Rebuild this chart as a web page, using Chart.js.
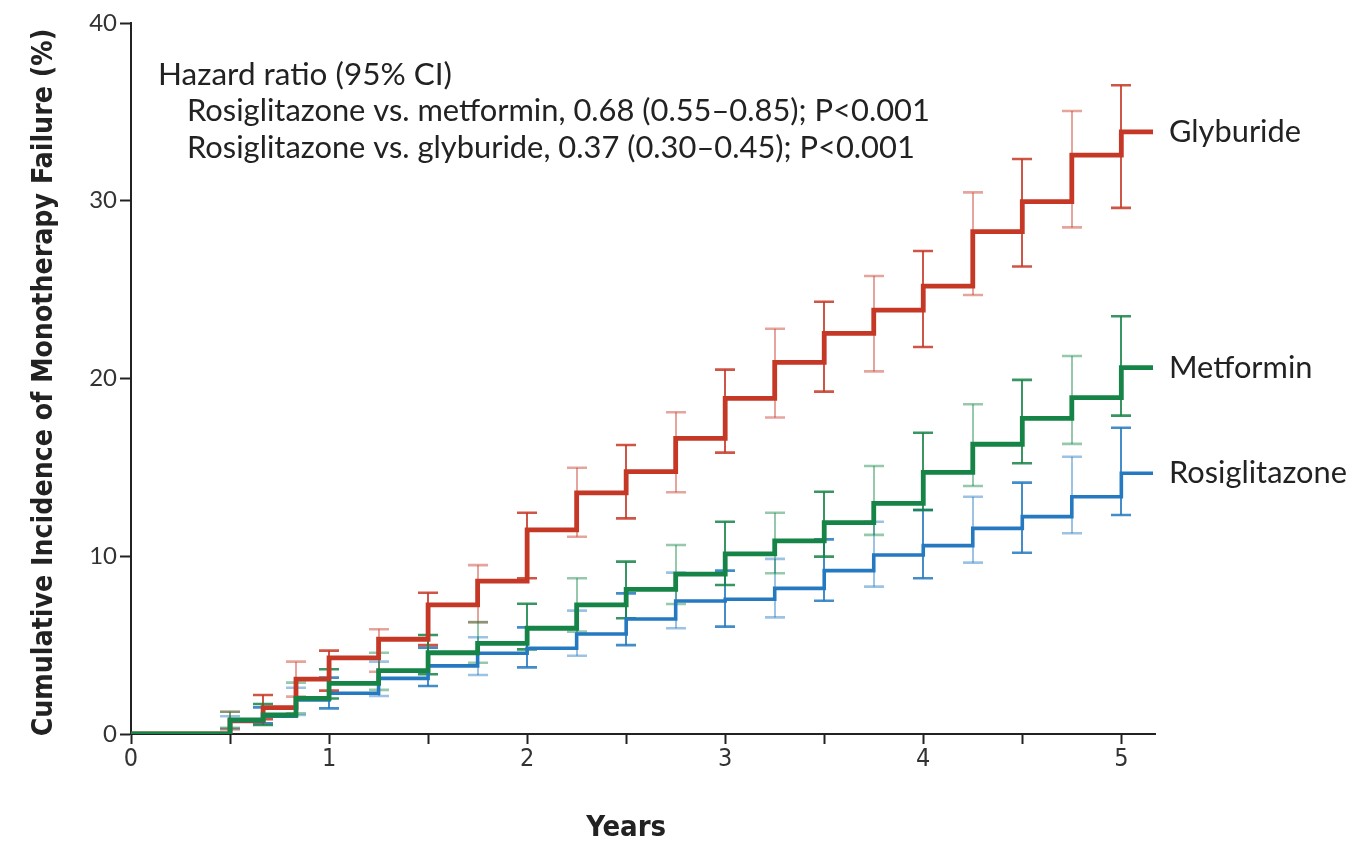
<!DOCTYPE html>
<html><head><meta charset="utf-8">
<script src="https://cdn.jsdelivr.net/npm/chart.js@4.4.1/dist/chart.umd.min.js"></script>
<style>html,body{margin:0;padding:0;background:#fff;} #wrap{width:1359px;height:841px;position:relative;}</style>
</head><body><div id="wrap"><canvas id="c" width="1359" height="841"></canvas></div>
<script>
// ---- data ----
const stepTimes = [0, 0.5, 0.667, 0.833, 1, 1.25, 1.5, 1.75, 2, 2.25, 2.5, 2.75, 3, 3.25, 3.5, 3.75, 4, 4.25, 4.5, 4.75, 5, 5.16];
const glyburide     = [0, 0.75, 1.48, 3.09, 4.28, 5.33, 7.26, 8.6, 11.48, 13.56, 14.76, 16.63, 18.88, 20.91, 22.54, 23.85, 25.2, 28.26, 29.95, 32.57, 33.88, 33.88];
const metformin     = [0, 0.79, 1.07, 2.0, 2.85, 3.56, 4.57, 5.1, 5.95, 7.26, 8.14, 9.0, 10.13, 10.86, 11.89, 12.98, 14.72, 16.3, 17.76, 18.92, 20.61, 20.61];
const rosiglitazone = [0, 0.7, 1.0, 1.91, 2.29, 3.13, 3.83, 4.54, 4.82, 5.63, 6.47, 7.48, 7.58, 8.19, 9.19, 10.07, 10.6, 11.57, 12.23, 13.35, 14.67, 14.67];

const ciTimes = [0.5, 0.667, 0.833, 1, 1.25, 1.5, 1.75, 2, 2.25, 2.5, 2.75, 3, 3.25, 3.5, 3.75, 4, 4.25, 4.5, 4.75, 5];
const glyburideLower = [0.26, 0.83, 2.1, 2.44, 3.5, 5.0, 6.28, 8.76, 11.1, 12.13, 13.6, 15.83, 17.81, 19.26, 20.4, 21.77, 24.7, 26.3, 28.5, 29.6];
const glyburideUpper = [1.25, 2.19, 4.07, 4.69, 5.89, 7.95, 9.5, 12.45, 14.98, 16.26, 18.1, 20.5, 22.8, 24.32, 25.77, 27.17, 30.47, 32.35, 35.05, 36.5];
const metforminLower = [0.35, 0.51, 1.16, 2.0, 2.48, 3.36, 4.01, 4.76, 5.76, 6.51, 7.31, 8.38, 9.04, 9.98, 11.2, 12.6, 13.95, 15.23, 16.32, 17.91];
const metforminUpper = [1.25, 1.69, 2.89, 3.64, 4.57, 5.57, 6.3, 7.33, 8.76, 9.7, 10.63, 11.94, 12.45, 13.63, 15.08, 16.95, 18.55, 19.92, 21.27, 23.5];
const rosiLower = [0.3, 0.6, 1.07, 1.44, 2.14, 2.7, 3.32, 3.75, 4.4, 5.0, 5.95, 6.04, 6.56, 7.5, 8.29, 8.76, 9.64, 10.2, 11.29, 12.32];
const rosiUpper = [1.0, 1.5, 2.6, 3.17, 4.07, 4.86, 5.44, 6.0, 6.94, 7.91, 9.08, 9.19, 9.85, 10.95, 11.94, 12.6, 13.35, 14.14, 15.6, 17.23];

const xTickValues = [0, 0.5, 1, 1.5, 2, 2.5, 3, 3.5, 4, 4.5, 5];
const xTickLabels = ['0', '', '1', '', '2', '', '3', '', '4', '', '5'];
const yTickValues = [0, 10, 20, 30, 40];
const seriesNames = ['Metformin', 'Glyburide', 'Rosiglitazone'];
const yTitle = 'Cumulative Incidence of Monotherapy Failure (%)';
const xTitle = 'Years';
const hazardTitle = 'Hazard ratio (95% CI)';
const hazardLines = ['Rosiglitazone vs. metformin, 0.68 (0.55\u20130.85); P<0.001',
                     'Rosiglitazone vs. glyburide, 0.37 (0.30\u20130.45); P<0.001'];

// ---- styles ----
const colors = { Metformin: [22, 132, 70], Glyburide: [198, 56, 38], Rosiglitazone: [36, 121, 192] };
const widths = { Metformin: 4.8, Glyburide: 4.8, Rosiglitazone: 3.6 };
const series = { Metformin: metformin, Glyburide: glyburide, Rosiglitazone: rosiglitazone };
const ci = {
  Metformin: [metforminLower, metforminUpper],
  Glyburide: [glyburideLower, glyburideUpper],
  Rosiglitazone: [rosiLower, rosiUpper]
};
const rgb = (c, a) => `rgba(${c[0]},${c[1]},${c[2]},${a})`;
const TXT = 'Lato, "Noto Sans", sans-serif';
const COND = '"Liberation Sans Narrow", "DejaVu Sans Condensed", "DejaVu Sans", sans-serif';
const AX = '#222';

function fitSize(ctx, text, weight, family, targetW) {
  ctx.font = `${weight} 100px ${family}`;
  return 100 * targetW / ctx.measureText(text).width;
}

const datasets = seriesNames.map(name => ({
  label: name,
  data: stepTimes.map((t, i) => ({ x: t, y: series[name][i] })),
  borderColor: rgb(colors[name], 1),
  borderWidth: widths[name],
  stepped: 'before',
  pointRadius: 0,
  fill: false,
  borderJoinStyle: 'miter',
  borderCapStyle: 'butt'
}));

const errorBars = {
  id: 'errorBars',
  beforeDatasetsDraw(chart) {
    const ctx = chart.ctx, xs = chart.scales.x, ys = chart.scales.y;
    ctx.save();
    [...seriesNames].reverse().forEach(name => {
      const [lo, hi] = ci[name];
      ciTimes.forEach((t, i) => {
        const x = Math.round(xs.getPixelForValue(t));
        const y1 = ys.getPixelForValue(lo[i]);
        const y2 = ys.getPixelForValue(hi[i]);
        const a = (i % 2 === 0) ? 0.45 : 0.85;
        ctx.strokeStyle = rgb(colors[name], a);
        ctx.lineWidth = 2;
        ctx.beginPath(); ctx.moveTo(x, y1); ctx.lineTo(x, y2); ctx.stroke();
        ctx.lineWidth = 2.6;
        ctx.beginPath();
        ctx.moveTo(x - 10, y1); ctx.lineTo(x + 10, y1);
        ctx.moveTo(x - 10, y2); ctx.lineTo(x + 10, y2);
        ctx.stroke();
      });
    });
    ctx.restore();
  }
};

const annotations = {
  id: 'annotations',
  afterDraw(chart) {
    const ctx = chart.ctx, xs = chart.scales.x, ys = chart.scales.y, ca = chart.chartArea;
    ctx.save();
    ctx.fillStyle = '#222';
    ctx.textBaseline = 'middle';
    ctx.textAlign = 'left';
    // hazard block
    let s = fitSize(ctx, hazardTitle, 400, TXT, 294);
    ctx.font = `400 ${s}px ${TXT}`;
    ctx.fillText(hazardTitle, 158, 75);
    s = fitSize(ctx, hazardLines[0], 400, TXT, 743);
    ctx.font = `400 ${s}px ${TXT}`;
    ctx.fillText(hazardLines[0], 187, 111);
    ctx.fillText(hazardLines[1], 187, 148);
    // end labels
    s = fitSize(ctx, 'Glyburide', 400, TXT, 132);
    ctx.font = `400 ${s}px ${TXT}`;
    seriesNames.forEach(name => {
      const v = series[name][series[name].length - 1];
      ctx.fillText(name, 1169, ys.getPixelForValue(v));
    });
    // x title
    s = fitSize(ctx, xTitle, 700, COND, 80);
    ctx.font = `700 ${s}px ${COND}`;
    ctx.textAlign = 'center';
    ctx.fillText(xTitle, xs.getPixelForValue(2.5), 828);
    // y title
    s = fitSize(ctx, yTitle, 700, COND, 708);
    ctx.font = `700 ${s}px ${COND}`;
    ctx.translate(45, (ca.top + ca.bottom) / 2 + 4);
    ctx.rotate(-Math.PI / 2);
    ctx.fillText(yTitle, 0, 0);
    ctx.restore();
  }
};

new Chart(document.getElementById('c'), {
  type: 'line',
  data: { datasets },
  options: {
    responsive: false,
    animation: false,
    events: [],
    layout: { padding: { left: 0, right: 204, top: 23, bottom: 0 } },
    plugins: { legend: { display: false }, tooltip: { enabled: false } },
    scales: {
      x: {
        type: 'linear', min: 0, max: 5.17,
        afterFit: s => { s.height = 107; },
        afterBuildTicks: s => { s.ticks = xTickValues.map(v => ({ value: v })); },
        ticks: {
          autoSkip: false, maxRotation: 0,
          callback: (v, i) => xTickLabels[i],
          font: { family: COND, size: 25 }, color: '#333', padding: 0
        },
        grid: { drawOnChartArea: false, drawTicks: true, tickLength: 10, tickColor: AX, tickWidth: 2 },
        border: { display: true, color: AX, width: 2 }
      },
      y: {
        type: 'linear', min: 0, max: 40,
        afterFit: s => { s.width = 131; },
        afterBuildTicks: s => { s.ticks = yTickValues.map(v => ({ value: v })); },
        ticks: { font: { family: TXT, size: 24 }, color: '#333', padding: 3 },
        grid: { drawOnChartArea: false, drawTicks: true, tickLength: 11, tickColor: AX, tickWidth: 2 },
        border: { display: true, color: AX, width: 2 }
      }
    }
  },
  plugins: [errorBars, annotations]
});
</script>
</body></html>
